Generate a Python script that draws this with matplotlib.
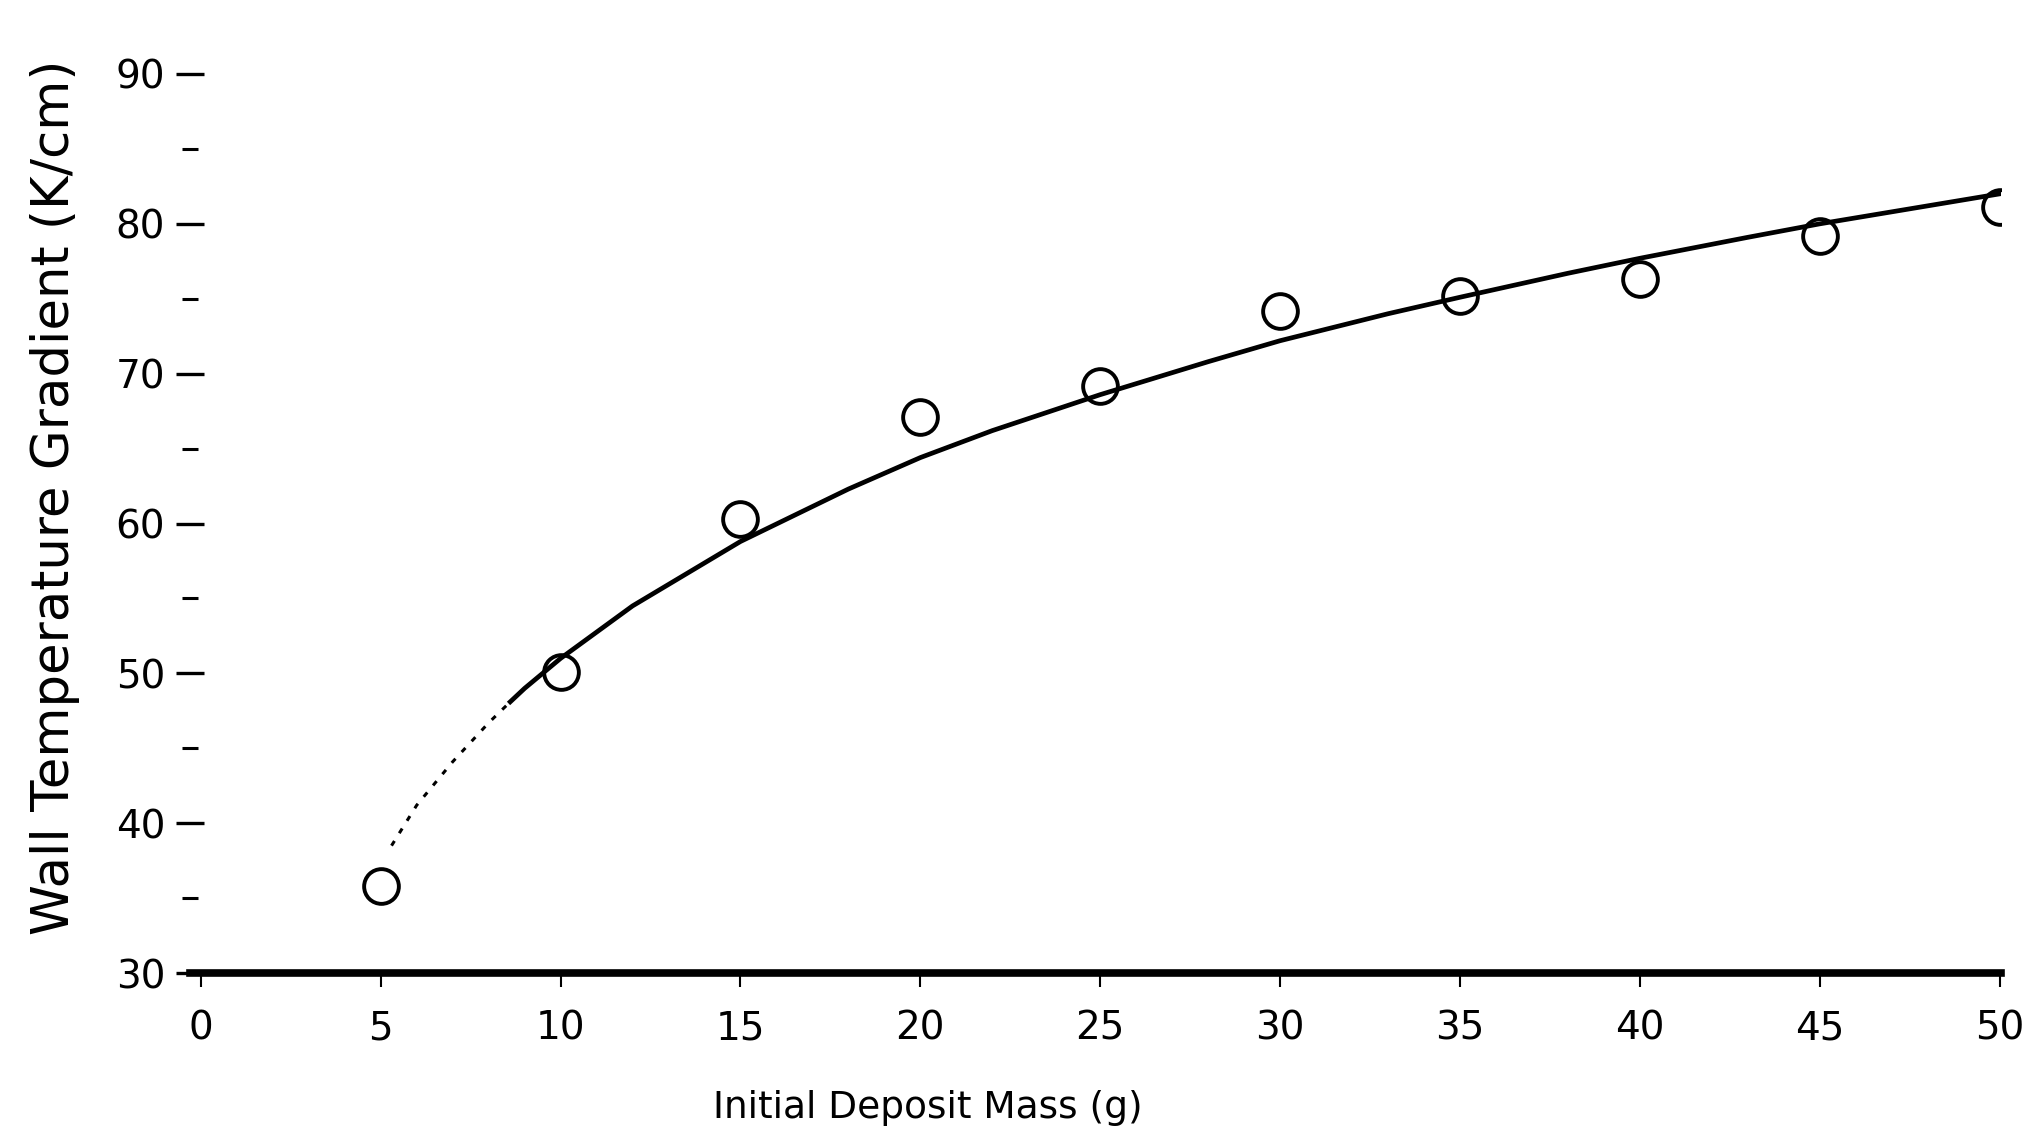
import matplotlib
matplotlib.use("Agg")
import matplotlib.pyplot as plt

# measured data points (open circles)
mass_pts = [5, 10, 15, 20, 25, 30, 35, 40, 45, 50]
grad_pts = [35.8, 50.1, 60.3, 67.1, 69.2, 74.2, 75.2, 76.3, 79.2, 81.1]

# fitted curve: dotted start, then solid
curve_x_dotted = [5.3, 6, 7, 8, 8.6]
curve_y_dotted = [38.5, 41.2, 44.1, 46.7, 48.1]
curve_x_solid = [8.6, 9, 10, 12, 15, 18, 20, 22, 25, 28, 30, 33, 35, 38, 40, 43, 45, 48, 50]
curve_y_solid = [48.1, 49.0, 51.0, 54.5, 58.8, 62.3, 64.4, 66.2, 68.6, 70.8, 72.2, 74.0,
                 75.1, 76.7, 77.7, 79.1, 80.0, 81.2, 82.0]

xticks = [0, 5, 10, 15, 20, 25, 30, 35, 40, 45, 50]
yticks = [30, 40, 50, 60, 70, 80, 90]
yminor = [35, 45, 55, 65, 75, 85]

plt.rcParams['font.family'] = ['DejaVu Sans']

fig = plt.figure(figsize=(20.35, 11.33), dpi=100)
ax = fig.add_axes([0.0934, 0.1412, 0.8901, 0.8001])

ax.plot(curve_x_dotted, curve_y_dotted, color='black', lw=2.2, linestyle=(0, (1.8, 3.0)))
ax.plot(curve_x_solid, curve_y_solid, color='black', lw=3.4)
ax.plot(mass_pts, grad_pts, linestyle='none', marker='o', markersize=25,
        markerfacecolor='none', markeredgecolor='black', markeredgewidth=2.8)

ax.set_xlim(-0.3, 50.05)
ax.set_ylim(30, 90.5)

for s in ['top', 'right', 'left']:
    ax.spines[s].set_visible(False)
ax.spines['bottom'].set_linewidth(5.5)
ax.spines['bottom'].set_color('black')

ax.set_xticks(xticks)
ax.set_xticklabels([str(v) for v in xticks])
ax.set_yticks(yticks)
ax.set_yticklabels([str(v) for v in yticks])
ax.set_yticks(yminor, minor=True)

ax.tick_params(axis='x', direction='out', length=10, width=1.5, pad=16, labelsize=28)
ax.tick_params(axis='y', which='major', direction='inout', length=20, width=2.4, pad=8, labelsize=28)
ax.tick_params(axis='y', which='minor', direction='inout', length=12, width=2.2)

fig.text(55 / 2035, 1 - 497 / 1133, 'Wall Temperature Gradient (K/cm)', rotation=90,
         ha='center', va='center', fontsize=37)
fig.text(928 / 2035, 1 - 1108 / 1133, 'Initial Deposit Mass (g)', ha='center', va='center',
         fontsize=27)

fig.savefig('out.png', dpi=100, facecolor='white')
